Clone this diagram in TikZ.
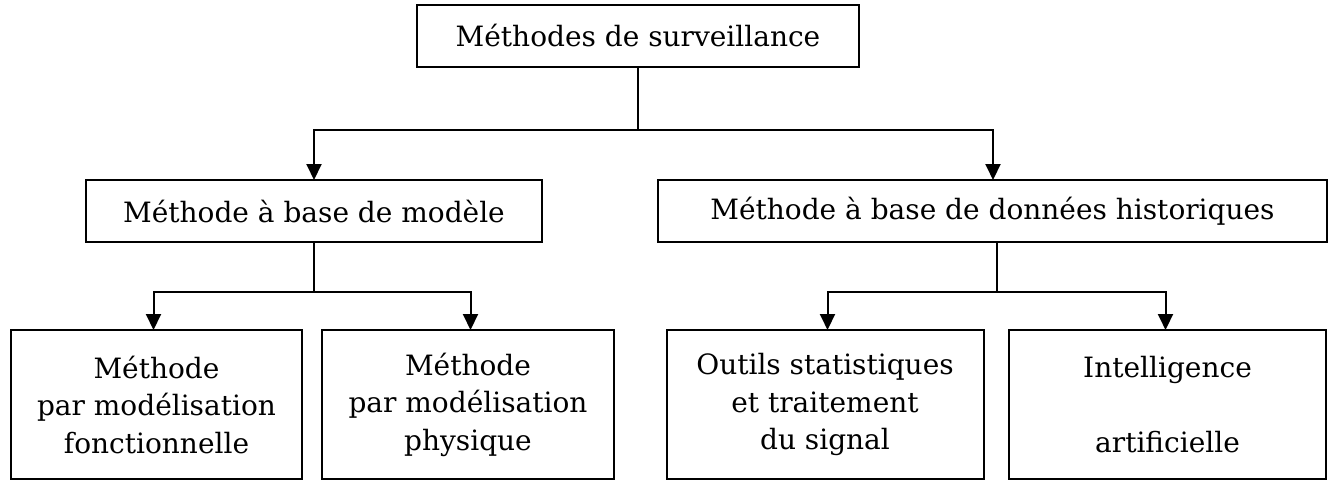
\documentclass[tikz,border=0pt]{standalone}
\usepackage{fontspec}
\setmainfont{DejaVu Serif}
\usetikzlibrary{arrows.meta}
\begin{document}
\begin{tikzpicture}[x=0.5pt,y=-0.5pt,
  box/.style={draw, line width=1pt, inner sep=0pt, align=center,
    font=\fontsize{14}{18.75}\selectfont},
  link/.style={line width=1pt},
  arr/.style={line width=1pt, -{Triangle[length=8pt,width=7.5pt]}}]
  \useasboundingbox (0,0) rectangle (1336,492);
  % boxes
  \node[box, minimum width=221pt, minimum height=31pt] (top) at (638,36) {Méthodes de surveillance};
  \node[box, minimum width=228pt, minimum height=31pt] (midL) at (314,211) {Méthode à base de modèle};
  \node[box, minimum width=334.5pt, minimum height=31pt] (midR) at (992.5,211) {Méthode à base de données historiques};
  \node[box, minimum width=145.5pt, minimum height=74.5pt] (b1) at (156.5,404.5) {Méthode\\par modélisation\\fonctionnelle};
  \node[box, minimum width=146pt, minimum height=74.5pt] (b2) at (468,404.5) {Méthode\\par modélisation\\physique};
  \node[box, minimum width=158.5pt, minimum height=74.5pt] (b3) at (825,404.5) {Outils statistiques\\et traitement\\du signal};
  \node[box, minimum width=158.5pt, minimum height=74.5pt] (b4) at (1167.5,404.5) {Intelligence\\ \\artificielle};
  % junction points and arrow targets
  \coordinate (j0) at (638,130);
  \coordinate (tL) at (314,180);
  \coordinate (tR) at (993,180);
  \coordinate (j1) at (313.5,292);
  \coordinate (t1) at (153.5,330);
  \coordinate (t2) at (470.5,330);
  \coordinate (j2) at (997,292);
  \coordinate (t3) at (827.5,330);
  \coordinate (t4) at (1165.5,330);
  % connectors
  \draw[link] (top.south) -- (j0);
  \draw[arr] (j0) -| (tL);
  \draw[arr] (j0) -| (tR);
  \draw[link] (j1 |- midL.south) -- (j1);
  \draw[arr] (j1) -| (t1);
  \draw[arr] (j1) -| (t2);
  \draw[link] (j2 |- midR.south) -- (j2);
  \draw[arr] (j2) -| (t3);
  \draw[arr] (j2) -| (t4);
\end{tikzpicture}
\end{document}
